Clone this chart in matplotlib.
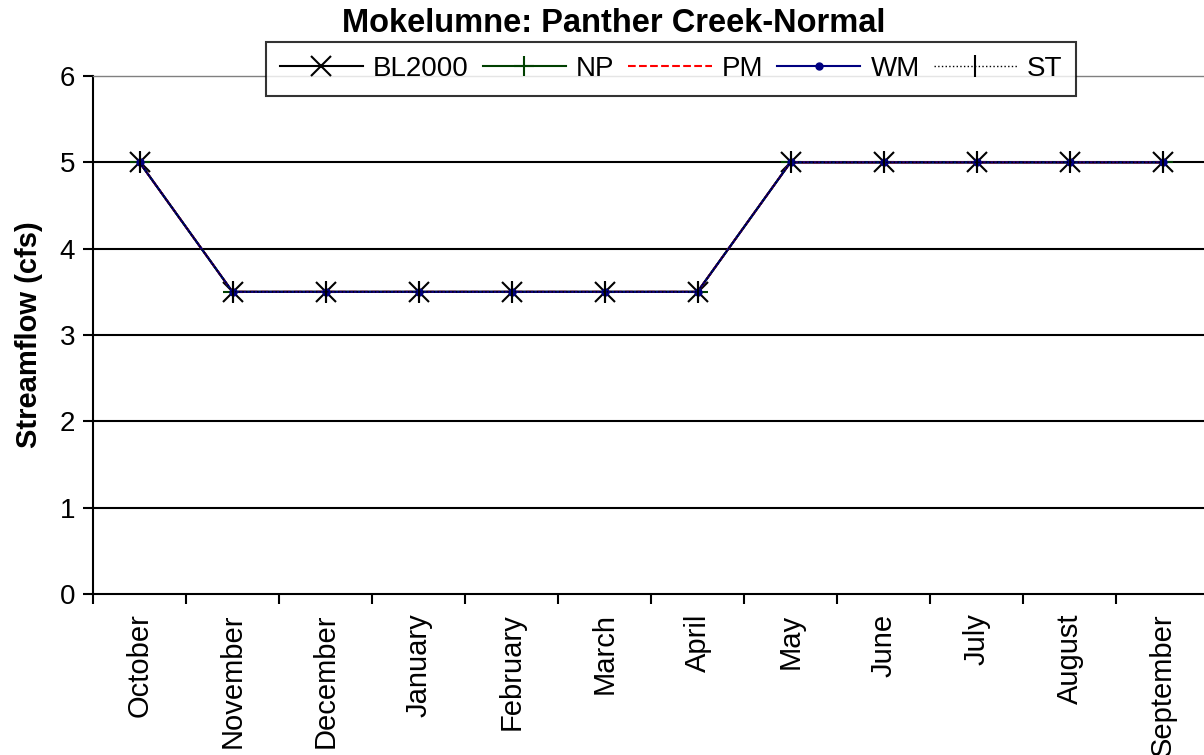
import numpy as np
import matplotlib.pyplot as plt

plt.rcParams['font.family'] = ['Liberation Sans', 'DejaVu Sans']

months = ['October', 'November', 'December', 'January', 'February', 'March',
          'April', 'May', 'June', 'July', 'August', 'September']
bl2000 = [5, 3.5, 3.5, 3.5, 3.5, 3.5, 3.5, 5, 5, 5, 5, 5]
np_alt = [5, 3.5, 3.5, 3.5, 3.5, 3.5, 3.5, 5, 5, 5, 5, 5]
pm = [5, 3.5, 3.5, 3.5, 3.5, 3.5, 3.5, 5, 5, 5, 5, 5]
wm = [5, 3.5, 3.5, 3.5, 3.5, 3.5, 3.5, 5, 5, 5, 5, 5]
st = [5, 3.5, 3.5, 3.5, 3.5, 3.5, 3.5, 5, 5, 5, 5, 5]

W, H = 1204, 755
fig = plt.figure(figsize=(W / 100, H / 100), dpi=100)
ax = fig.add_axes([93 / W, 1 - 594 / H, (1209 - 93) / W, (594 - 76) / H])

x = np.arange(len(months))
ax.plot(x, bl2000, color='black', lw=1.5, marker='x', ms=14, mew=1.5, label='BL2000')
ax.plot(x, np_alt, color='#004000', lw=1.5, marker='+', ms=14, mew=1.5, label='NP')
ax.plot(x, pm, color='red', lw=1.5, ls='--', label='PM')
ax.plot(x, wm, color='#000080', lw=1.5, marker='o', ms=5, label='WM')
ax.plot(x, st, color='black', lw=1, ls=':', marker='|', ms=16, mew=1.5, label='ST')

ax.set_xlim(-0.5, len(months) - 0.5)
ax.set_ylim(0, 6)
ax.set_yticks(range(7))
ax.set_xticks(np.arange(len(months) + 1) - 0.5)
ax.set_xticklabels([])
ax.set_xticks(x, minor=True)
ax.set_xticklabels(months, minor=True, rotation=90, fontsize=21)
ax.tick_params(axis='x', which='minor', length=0, pad=14)
ax.tick_params(axis='x', which='major', length=7, width=1.5, direction='out')
ax.tick_params(axis='y', labelsize=20, length=7, width=1.5, pad=6)

for yv in range(1, 6):
    ax.axhline(yv, color='black', lw=1.5, zorder=0.5)
ax.spines['top'].set_color('#808080')
ax.spines['top'].set_linewidth(1)
ax.spines['right'].set_visible(False)
ax.spines['left'].set_linewidth(1.5)
ax.spines['bottom'].set_linewidth(1.5)

ax.set_ylabel('Streamflow (cfs)', fontsize=21, fontweight='bold', labelpad=12)
fig.text(614 / W, 1 - 23 / H, 'Mokelumne: Panther Creek-Normal', ha='center', va='center',
         fontsize=23.5, fontweight='bold')

leg = fig.legend(loc='center', bbox_to_anchor=(671 / W, 1 - 69 / H), ncol=5,
                 fontsize=20, frameon=True, fancybox=False, edgecolor='black',
                 handlelength=3.0, handletextpad=0.36, columnspacing=0.5,
                 borderpad=0.5, borderaxespad=0)
leg.get_frame().set_linewidth(1.5)

fig.savefig('out.png', dpi=100)
